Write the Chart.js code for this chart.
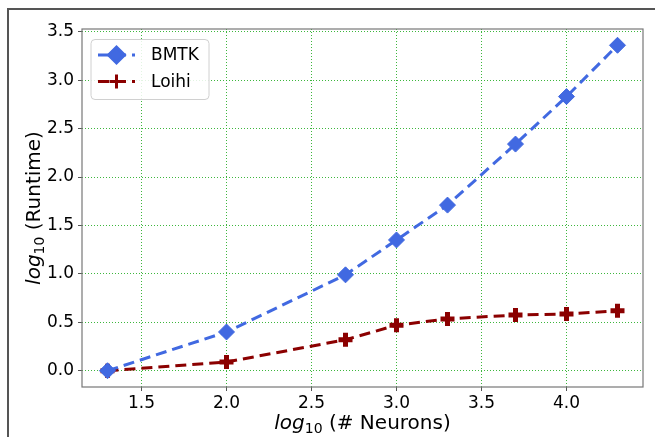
<!DOCTYPE html>
<html><head><meta charset="utf-8">
<script src="https://cdn.jsdelivr.net/npm/chart.js@4/dist/chart.umd.min.js"></script>
<style>html,body{margin:0;padding:0;background:#fff}#wrap{width:655px;height:437px}</style>
</head><body><div id="wrap"><canvas id="c" width="655" height="437"></canvas></div>
<script>
const xNeurons = [1.3, 2.0, 2.7, 3.0, 3.3, 3.7, 4.0, 4.3];
const bmtk = [0.0, 0.40, 0.99, 1.35, 1.71, 2.34, 2.83, 3.36];
const loihi = [0.0, 0.09, 0.32, 0.47, 0.535, 0.575, 0.585, 0.62];
const xTicks = [1.5, 2.0, 2.5, 3.0, 3.5, 4.0];
const yTicks = [0.0, 0.5, 1.0, 1.5, 2.0, 2.5, 3.0, 3.5];
const seriesNames = ['BMTK', 'Loihi'];
const xTitle = ['log', '10', ' (# Neurons)'];
const yTitle = ['log', '10', ' (Runtime)'];

const FONT = '"DejaVu Sans", sans-serif';
const BLUE = '#4169e1', RED = '#8b0000';
const DASH = [11, 6];

function drawTitle(ctx, parts, cx, cy, rot) {
  ctx.save();
  ctx.translate(cx, cy);
  if (rot) ctx.rotate(-Math.PI / 2);
  const specs = [
    {t: parts[0], f: 'italic 20px ' + FONT, dy: 0},
    {t: parts[1], f: '14px ' + FONT, dy: 5},
    {t: parts[2], f: '20px ' + FONT, dy: 0}
  ];
  let w = 0;
  specs.forEach(s => { ctx.font = s.f; s.w = ctx.measureText(s.t).width; w += s.w; });
  let x = -w / 2;
  ctx.fillStyle = '#000';
  ctx.textBaseline = 'middle';
  ctx.textAlign = 'left';
  specs.forEach(s => { ctx.font = s.f; ctx.fillText(s.t, x, s.dy); x += s.w; });
  ctx.restore();
}

const deco = {
  id: 'deco',
  beforeDraw(chart) {
    const ctx = chart.ctx;
    ctx.save();
    ctx.fillStyle = '#fff';
    ctx.fillRect(0, 0, chart.width, chart.height);
    ctx.strokeStyle = '#555';
    ctx.lineWidth = 2;
    ctx.beginPath();
    ctx.moveTo(8, chart.height); ctx.lineTo(8, 9); ctx.lineTo(chart.width, 9);
    ctx.stroke();
    ctx.restore();
  },
  afterDraw(chart) {
    const ctx = chart.ctx, a = chart.chartArea;
    ctx.save();
    ctx.strokeStyle = '#777';
    ctx.lineWidth = 1.2;
    ctx.strokeRect(a.left, a.top, a.right - a.left, a.bottom - a.top);
    ctx.restore();
    drawTitle(ctx, xTitle, (a.left + a.right) / 2, 424, false);
    drawTitle(ctx, yTitle, 35, (a.top + a.bottom) / 2, true);
    // legend
    ctx.save();
    const bx = 91, by = 39.5, bw = 118, bh = 60, r = 4;
    ctx.fillStyle = 'rgba(255,255,255,0.85)';
    ctx.strokeStyle = '#d0d0d0';
    ctx.lineWidth = 1;
    ctx.beginPath();
    ctx.roundRect(bx, by, bw, bh, r);
    ctx.fill(); ctx.stroke();
    const ys = [55, 81.5];
    chart.data.datasets.forEach((ds, i) => {
      const y = ys[i];
      ctx.strokeStyle = ds.borderColor;
      ctx.lineWidth = 3;
      ctx.setLineDash(DASH);
      ctx.beginPath(); ctx.moveTo(98, y); ctx.lineTo(135, y); ctx.stroke();
      ctx.setLineDash([]);
      ctx.fillStyle = ds.borderColor;
      Chart.helpers.drawPoint(ctx, {
        pointStyle: ds.pointStyle, radius: ds.pointRadius,
        borderWidth: ds.pointBorderWidth, rotation: 0
      }, 116.5, y);
      ctx.fillStyle = '#000';
      ctx.font = '17px ' + FONT;
      ctx.textBaseline = 'middle';
      ctx.textAlign = 'left';
      ctx.fillText(ds.label, 151, y + 1);
    });
    ctx.restore();
  }
};

const ds = (label, data, color, style, radius, bw) => ({
  label,
  data: xNeurons.map((x, i) => ({x, y: data[i]})),
  borderColor: color,
  backgroundColor: color,
  borderWidth: 3,
  borderDash: DASH,
  pointStyle: style,
  pointRadius: radius,
  pointBorderWidth: bw,
  pointBackgroundColor: color,
  pointBorderColor: color,
  pointHoverRadius: radius,
  tension: 0
});

const gridCommon = {
  color: 'rgba(40,175,40,0.9)',
  lineWidth: 1,
  drawTicks: true,
  tickLength: 4,
  tickColor: '#555',
  tickBorderDash: [],
  tickWidth: 1
};

new Chart(document.getElementById('c'), {
  type: 'line',
  data: {
    datasets: [
      ds(seriesNames[0], bmtk, BLUE, 'rectRot', 8, 1),
      ds(seriesNames[1], loihi, RED, 'cross', 7, 5)
    ]
  },
  options: {
    responsive: false,
    animation: false,
    devicePixelRatio: 1,
    layout: {padding: {left: 0, top: 29, right: 8, bottom: 0}},
    plugins: {legend: {display: false}, tooltip: {enabled: false}},
    scales: {
      x: {
        type: 'linear', min: 1.15, max: 4.45,
        afterBuildTicks: s => { s.ticks = xTicks.map(v => ({value: v})); },
        afterFit: s => { s.height = 50; },
        grid: gridCommon,
        border: {display: false, dash: [1, 2]},
        ticks: {font: {family: FONT, size: 17}, color: '#000', padding: 2,
          callback: v => Number(v).toFixed(1), maxRotation: 0}
      },
      y: {
        type: 'linear', min: -0.168, max: 3.528,
        afterBuildTicks: s => { s.ticks = yTicks.map(v => ({value: v})); },
        afterFit: s => { s.width = 82; },
        grid: gridCommon,
        border: {display: false, dash: [1, 2]},
        ticks: {font: {family: FONT, size: 17}, color: '#000', padding: 4,
          callback: v => Number(v).toFixed(1)}
      }
    }
  },
  plugins: [deco]
});
</script></body></html>
